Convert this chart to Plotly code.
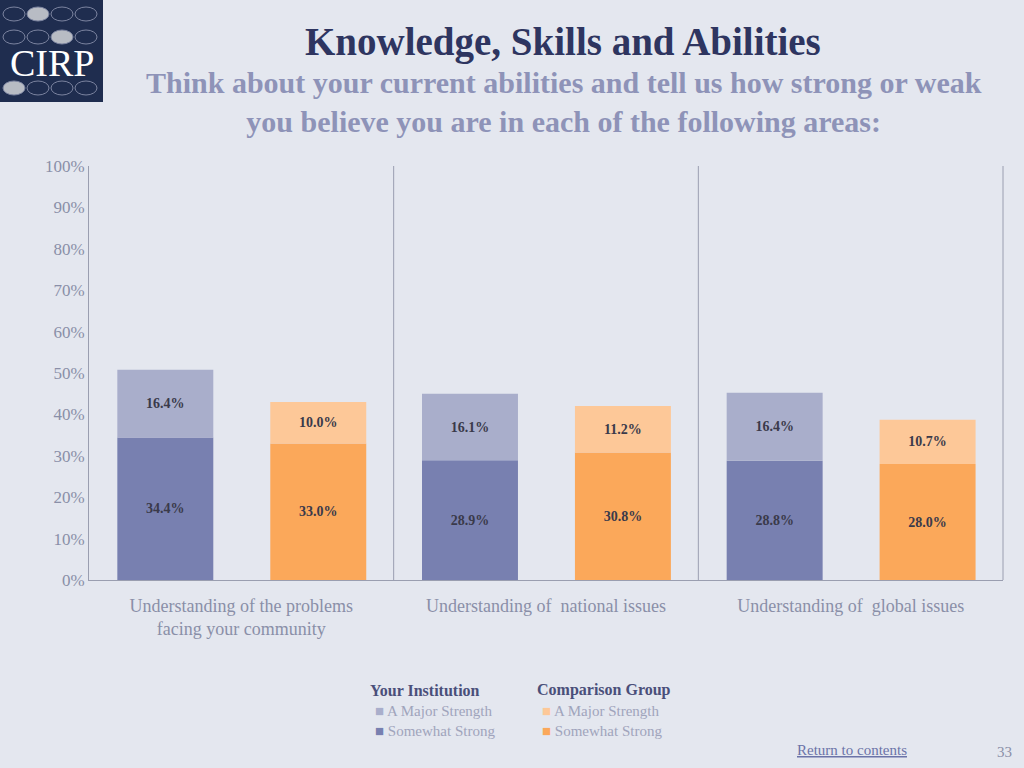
import plotly.graph_objects as go

categories = ["Understanding of the problems<br>facing your community",
              "Understanding of  national issues",
              "Understanding of  global issues"]
inst_somewhat = [34.4, 28.9, 28.8]
inst_major = [16.4, 16.1, 16.4]
comp_somewhat = [33.0, 30.8, 28.0]
comp_major = [10.0, 11.2, 10.7]
tick_vals = [0, 10, 20, 30, 40, 50, 60, 70, 80, 90, 100]
tick_text = [f"{v}%" for v in tick_vals]

SERIF = "Liberation Serif"
W, OI, OC = 0.315, -0.407, 0.095
fig = go.Figure()
def bar(y, base, color, off, name):
    fig.add_trace(go.Bar(x=categories, y=y, base=base, width=W, offset=off,
        marker=dict(color=color, line=dict(width=0)), name=name, showlegend=False,
        text=[f"<b>{v:.1f}%</b>" for v in y], textposition="inside", insidetextanchor="middle",
        textfont=dict(family=SERIF, size=14, color="#3a3a4a"), cliponaxis=False))
bar(inst_somewhat, None, "#7880b0", OI, "Somewhat Strong")
bar(inst_major, inst_somewhat, "#a9aecb", OI, "A Major Strength")
bar(comp_somewhat, None, "#fba85a", OC, "Somewhat Strong")
bar(comp_major, comp_somewhat, "#fdc898", OC, "A Major Strength")

for xv in [0.5, 1.5]:
    fig.add_shape(type="line", xref="x", yref="y", x0=xv, x1=xv, y0=0, y1=100,
                  line=dict(color="#9a9eb0", width=1))
fig.add_shape(type="line", xref="paper", yref="y", x0=1, x1=1, y0=0, y1=100,
              line=dict(color="#9a9eb0", width=1))

PW, PH = 914.0, 414.0
def px(x): return (x - 89) / PW
def py(y): return (580 - y) / PH
def ann(x, y, text, size, color, xanchor="center", **kw):
    fig.add_annotation(xref="paper", yref="paper", x=x, y=y, text=text, showarrow=False,
                       xanchor=xanchor, yanchor="middle",
                       font=dict(family=SERIF, size=size, color=color), **kw)

# logo
fig.add_shape(type="rect", xref="paper", yref="paper", x0=px(0), x1=px(103), y0=py(102), y1=py(0),
              fillcolor="#1f2d4f", line=dict(width=0), layer="above")
filled = {(0, 1), (1, 2), (2, 0)}
for r, cy in enumerate([14, 37, 88]):
    for c, cx in enumerate([14, 38, 62, 86]):
        f = (r, c) in filled
        fig.add_shape(type="circle", xref="paper", yref="paper", x0=px(cx - 11), x1=px(cx + 11),
                      y0=py(cy + 7), y1=py(cy - 7), layer="above",
                      fillcolor="#b8bcc4" if f else "rgba(0,0,0,0)",
                      line=dict(color="#7c84a0", width=1))
ann(px(52), py(63), "CIRP", 38, "white")

ann(px(563), py(42), "<b>Knowledge, Skills and Abilities</b>", 39, "#2e3560")
ann(px(564), py(102),
    "<b>Think about your current abilities and tell us how strong or weak<br>you believe you are in each of the following areas:</b>",
    30, "#8e93b8")

leg = [(px(368), "<b>Your Institution</b>", "#4a4f7a", None),
       (px(368), "A Major Strength", "#a0a4bc", "#a9aecb"),
       (px(368), "Somewhat Strong", "#a0a4bc", "#7880b0"),
       (px(535), "<b>Comparison Group</b>", "#4a4f7a", None),
       (px(535), "A Major Strength", "#a0a4bc", "#fdc898"),
       (px(535), "Somewhat Strong", "#a0a4bc", "#fba85a")]
ys = [py(690), py(711), py(731)]
for i, (xp, t, c, sq) in enumerate(leg):
    txt = t if sq is None else f"<span style='color:{sq}'>■</span> {t}"
    ann(xp + (0 if sq is None else 0.006), ys[i % 3], txt, 16 if sq is None else 15, c, "left")
ann(px(795), py(750), "<u>Return to contents</u>", 15, "#6b73a8", "left")
ann(px(1014), py(752), "33", 15, "#8a8fa8", "right")

fig.update_layout(width=1024, height=768, margin=dict(l=89, r=21, t=166, b=188),
                  paper_bgcolor="#e4e7ef", plot_bgcolor="#e4e7ef", barmode="overlay",
                  xaxis=dict(tickfont=dict(family=SERIF, size=18, color="#8a8fa8"),
                             showline=True, linecolor="#9a9eb0", ticks="outside", ticklen=9,
                             tickcolor="rgba(0,0,0,0)", range=[-0.5, 2.5]),
                  yaxis=dict(range=[0, 100], tickvals=tick_vals, ticktext=tick_text, showgrid=False,
                             showline=True, linecolor="#9a9eb0", zeroline=False,
                             tickfont=dict(family=SERIF, size=17, color="#8a8fa8")))
fig.write_html("out.html", config={"displayModeBar": False},
               post_script="document.body.style.margin='0';document.body.style.background='#e4e7ef';")
